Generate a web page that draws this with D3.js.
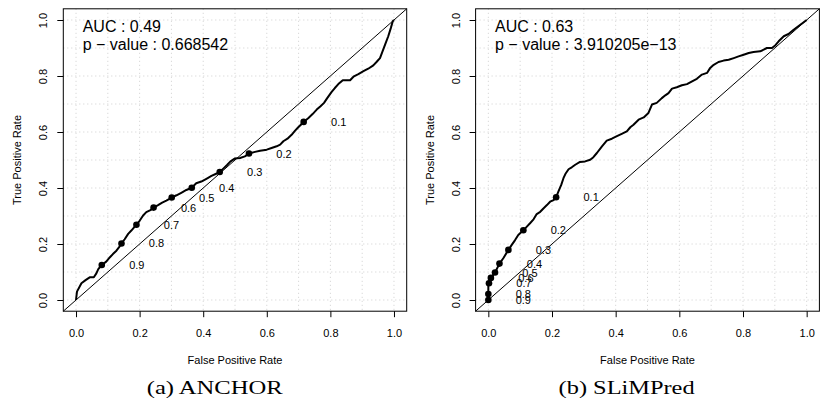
<!DOCTYPE html>
<html>
<head>
<meta charset="utf-8">
<script src="https://cdn.jsdelivr.net/npm/d3@7"></script>
<style>
  html, body { margin: 0; padding: 0; background: #ffffff; }
  svg { display: block; }
</style>
</head>
<body>
<svg id="chart" width="821" height="409"></svg>
<script>
// ---------------- DATA ----------------
const tickValues = [0.0, 0.2, 0.4, 0.6, 0.8, 1.0];
const tickLabels = ["0.0", "0.2", "0.4", "0.6", "0.8", "1.0"];
const gridValues = [0.0, 0.1, 0.2, 0.3, 0.4, 0.5, 0.6, 0.7, 0.8, 0.9, 1.0];
const cutoffLabels = ["0.1", "0.2", "0.3", "0.4", "0.5", "0.6", "0.7", "0.8", "0.9"];

const anchorFPR = [0, 0.003, 0.017, 0.030, 0.043, 0.056, 0.064, 0.070, 0.081, 0.095, 0.106, 0.116, 0.127, 0.135, 0.143, 0.153, 0.164, 0.174, 0.190, 0.200, 0.211, 0.221, 0.234, 0.244, 0.258, 0.271, 0.284, 0.301, 0.316, 0.331, 0.347, 0.364, 0.378, 0.394, 0.410, 0.426, 0.439, 0.452, 0.464, 0.475, 0.485, 0.499, 0.516, 0.531, 0.544, 0.563, 0.579, 0.600, 0.615, 0.631, 0.642, 0.652, 0.665, 0.678, 0.689, 0.699, 0.716, 0.731, 0.744, 0.757, 0.769, 0.780, 0.790, 0.804, 0.814, 0.825, 0.839, 0.862, 0.874, 0.888, 0.904, 0.919, 0.935, 0.945, 0.956, 0.964, 0.972, 0.982, 0.990, 0.996, 1.0];
const anchorTPR = [0, 0.030, 0.060, 0.071, 0.081, 0.081, 0.095, 0.110, 0.125, 0.137, 0.152, 0.164, 0.176, 0.188, 0.202, 0.217, 0.236, 0.248, 0.269, 0.283, 0.302, 0.314, 0.321, 0.330, 0.339, 0.348, 0.355, 0.366, 0.374, 0.383, 0.393, 0.401, 0.417, 0.423, 0.433, 0.443, 0.450, 0.457, 0.470, 0.482, 0.494, 0.505, 0.507, 0.513, 0.523, 0.529, 0.533, 0.537, 0.543, 0.549, 0.555, 0.567, 0.576, 0.590, 0.605, 0.617, 0.636, 0.650, 0.664, 0.680, 0.692, 0.704, 0.721, 0.743, 0.757, 0.771, 0.785, 0.785, 0.799, 0.807, 0.817, 0.826, 0.838, 0.850, 0.864, 0.888, 0.912, 0.942, 0.971, 0.995, 1.0];
const anchorCutFPR = [0.716, 0.544, 0.452, 0.364, 0.301, 0.244, 0.190, 0.143, 0.081];
const anchorCutTPR = [0.636, 0.523, 0.457, 0.401, 0.366, 0.330, 0.269, 0.202, 0.125];

const slimFPR = [0, 0, 0.008, 0.021, 0.035, 0.047, 0.063, 0.073, 0.084, 0.094, 0.110, 0.121, 0.131, 0.142, 0.152, 0.163, 0.173, 0.184, 0.194, 0.205, 0.213, 0.220, 0.229, 0.236, 0.243, 0.252, 0.262, 0.273, 0.288, 0.304, 0.320, 0.330, 0.341, 0.357, 0.372, 0.388, 0.404, 0.419, 0.435, 0.446, 0.456, 0.472, 0.488, 0.503, 0.514, 0.529, 0.545, 0.556, 0.566, 0.577, 0.592, 0.608, 0.624, 0.640, 0.655, 0.671, 0.687, 0.697, 0.708, 0.723, 0.739, 0.755, 0.771, 0.786, 0.802, 0.818, 0.833, 0.854, 0.865, 0.875, 0.891, 0.902, 0.912, 0.928, 0.943, 0.959, 0.980, 1.0];
const slimTPR = [0, 0.060, 0.079, 0.098, 0.130, 0.149, 0.179, 0.196, 0.214, 0.232, 0.249, 0.262, 0.274, 0.288, 0.307, 0.315, 0.327, 0.339, 0.351, 0.357, 0.367, 0.387, 0.411, 0.435, 0.452, 0.467, 0.474, 0.483, 0.493, 0.495, 0.501, 0.510, 0.525, 0.549, 0.569, 0.576, 0.585, 0.593, 0.602, 0.617, 0.626, 0.644, 0.652, 0.668, 0.698, 0.704, 0.721, 0.731, 0.739, 0.755, 0.760, 0.767, 0.771, 0.781, 0.790, 0.805, 0.811, 0.829, 0.840, 0.850, 0.855, 0.858, 0.864, 0.870, 0.876, 0.882, 0.886, 0.888, 0.894, 0.900, 0.900, 0.910, 0.924, 0.942, 0.950, 0.965, 0.983, 1.0];
const slimCutFPR = [0.213, 0.110, 0.063, 0.035, 0.021, 0.008, 0.002, 0, 0];
const slimCutTPR = [0.367, 0.249, 0.179, 0.130, 0.098, 0.079, 0.060, 0.021, 0];

const panels = [
  { fpr: anchorFPR, tpr: anchorTPR, cfpr: anchorCutFPR, ctpr: anchorCutTPR,
    auc: "AUC : 0.49", pval: "p \u2212 value : 0.668542", caption: "(a) ANCHOR",
    left: 63.3, right: 406.7, capX: 214.7 },
  { fpr: slimFPR, tpr: slimTPR, cfpr: slimCutFPR, ctpr: slimCutTPR,
    auc: "AUC : 0.63", pval: "p \u2212 value : 3.910205e\u221213", caption: "(b) SLiMPred",
    left: 475.6, right: 819.4, capX: 626.6 }
];

// ---------------- DRAW ----------------
const SANS = "'Liberation Sans', Arial, Helvetica, sans-serif";
const SERIF = "'Liberation Serif', 'Times New Roman', serif";
const svg = d3.select("#chart");
const boxTop = 8.8, boxBottom = 311.2;

panels.forEach(p => {
  const x = d3.scaleLinear().domain([-0.04, 1.04]).range([p.left, p.right]);
  const y = d3.scaleLinear().domain([-0.04, 1.04]).range([boxBottom, boxTop]);
  const g = svg.append("g");

  // grid (dotted light gray)
  g.selectAll(".vg").data(gridValues).enter().append("line")
    .attr("x1", d => x(d)).attr("x2", d => x(d))
    .attr("y1", boxTop).attr("y2", boxBottom)
    .attr("stroke", "#cfcfcf").attr("stroke-width", 1).attr("stroke-dasharray", "1,3");
  g.selectAll(".hg").data(gridValues).enter().append("line")
    .attr("y1", d => y(d)).attr("y2", d => y(d))
    .attr("x1", p.left).attr("x2", p.right)
    .attr("stroke", "#cfcfcf").attr("stroke-width", 1).attr("stroke-dasharray", "1,3");

  // diagonal
  g.append("line")
    .attr("x1", x(-0.04)).attr("y1", y(-0.04))
    .attr("x2", x(1.04)).attr("y2", y(1.04))
    .attr("stroke", "#000").attr("stroke-width", 1);

  // box
  g.append("rect")
    .attr("x", p.left).attr("y", boxTop)
    .attr("width", p.right - p.left).attr("height", boxBottom - boxTop)
    .attr("fill", "none").attr("stroke", "#000").attr("stroke-width", 1);

  // axes
  const xAxis = d3.axisBottom(x).tickValues(tickValues).tickSize(6)
    .tickFormat((d, i) => tickLabels[i]);
  const gx = g.append("g").attr("transform", `translate(0,${boxBottom})`).call(xAxis);
  gx.select(".domain").remove();
  gx.selectAll("line").attr("stroke", "#000");
  gx.selectAll("text").style("font-size", "11px").style("font-family", SANS)
    .attr("fill", "#000").attr("dy", null).attr("y", 26);

  const yAxis = d3.axisLeft(y).tickValues(tickValues).tickSize(6)
    .tickFormat((d, i) => tickLabels[i]);
  const gy = g.append("g").attr("transform", `translate(${p.left},0)`).call(yAxis);
  gy.select(".domain").remove();
  gy.selectAll("line").attr("stroke", "#000");
  gy.selectAll("text")
    .style("font-size", "11px").style("font-family", SANS)
    .attr("fill", "#000")
    .attr("x", null).attr("dy", null).attr("text-anchor", "middle")
    .attr("transform", "translate(-16,0) rotate(-90)")
    .attr("y", 0);

  // axis titles
  g.append("text").attr("x", (p.left + p.right) / 2).attr("y", 364)
    .attr("text-anchor", "middle").style("font-size", "11px").style("font-family", SANS)
    .text("False Positive Rate");
  g.append("text")
    .attr("transform", `translate(${p.left - 42},${(boxTop + boxBottom) / 2}) rotate(-90)`)
    .attr("text-anchor", "middle").style("font-size", "11px").style("font-family", SANS)
    .text("True Positive Rate");

  // ROC curve
  const line = d3.line().x(d => x(d[0])).y(d => y(d[1]));
  const pts = p.fpr.map((v, i) => [v, p.tpr[i]]);
  g.append("path").datum(pts).attr("d", line)
    .attr("fill", "none").attr("stroke", "#000").attr("stroke-width", 2)
    .attr("stroke-linejoin", "round");

  // cutoff points & labels
  const cpts = p.cfpr.map((v, i) => ({ x: v, y: p.ctpr[i], label: cutoffLabels[i] }));
  g.selectAll(".cp").data(cpts).enter().append("circle")
    .attr("cx", d => x(d.x)).attr("cy", d => y(d.y)).attr("r", 3.3).attr("fill", "#000");
  g.selectAll(".cl").data(cpts).enter().append("text")
    .attr("x", d => x(d.x) + 35).attr("y", d => y(d.y) + 4)
    .attr("text-anchor", "middle").style("font-size", "11px").style("font-family", SANS)
    .attr("fill", "#000")
    .text(d => d.label);

  // AUC / p-value text
  g.append("text").attr("x", p.left + 19.4).attr("y", 31.5)
    .style("font-size", "16px").style("font-family", SANS).text(p.auc);
  g.append("text").attr("x", p.left + 19.4).attr("y", 49.5)
    .style("font-size", "16px").style("font-family", SANS).text(p.pval);

  // caption
  g.append("text").attr("x", p.capX).attr("y", 394).attr("text-anchor", "middle")
    .style("font-family", SERIF).style("font-size", "19.5px")
    .attr("textLength", 136).attr("lengthAdjust", "spacingAndGlyphs")
    .text(p.caption);
});
</script>
</body>
</html>
